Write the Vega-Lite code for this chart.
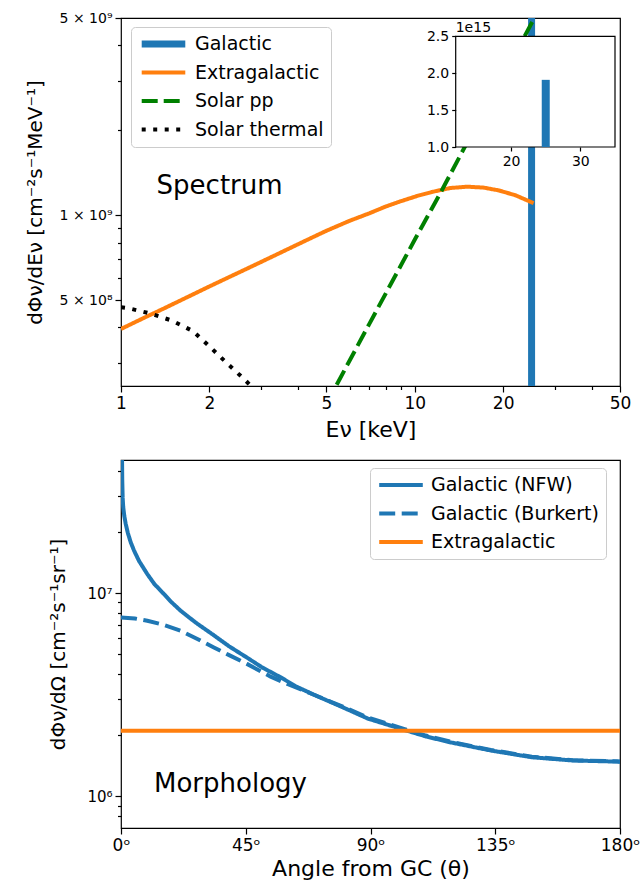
{
  "$schema": "https://vega.github.io/schema/vega-lite/v6.json",
  "padding": {"left": 24, "top": 10, "right": 10, "bottom": 2},
  "bounds": "flush",
  "spacing": 74,
  "resolve": {"scale": {"color": "independent", "strokeDash": "independent", "strokeWidth": "independent"}},
  "vconcat": [
    {
      "width": 499,
      "height": 368,
      "layer": [
        {
          "layer": [
            {
              "data": {"values": [
                {"series": "Galactic", "E": 25, "flux": 1e8},
                {"series": "Galactic", "E": 25, "flux": 1.91e15},
                {"series": "Extragalactic", "E": 1.0, "flux": 3.95e8},
                {"series": "Extragalactic", "E": 1.2, "flux": 4.33e8},
                {"series": "Extragalactic", "E": 1.4, "flux": 4.67e8},
                {"series": "Extragalactic", "E": 1.7, "flux": 5.15e8},
                {"series": "Extragalactic", "E": 2.0, "flux": 5.59e8},
                {"series": "Extragalactic", "E": 2.3, "flux": 5.99e8},
                {"series": "Extragalactic", "E": 2.7, "flux": 6.48e8},
                {"series": "Extragalactic", "E": 3.2, "flux": 7.05e8},
                {"series": "Extragalactic", "E": 3.7, "flux": 7.58e8},
                {"series": "Extragalactic", "E": 4.3, "flux": 8.17e8},
                {"series": "Extragalactic", "E": 5.0, "flux": 8.8e8},
                {"series": "Extragalactic", "E": 6.0, "flux": 9.55e8},
                {"series": "Extragalactic", "E": 7.0, "flux": 1.015e9},
                {"series": "Extragalactic", "E": 8.0, "flux": 1.075e9},
                {"series": "Extragalactic", "E": 9.0, "flux": 1.122e9},
                {"series": "Extragalactic", "E": 10.2, "flux": 1.17e9},
                {"series": "Extragalactic", "E": 11.5, "flux": 1.21e9},
                {"series": "Extragalactic", "E": 13.2, "flux": 1.248e9},
                {"series": "Extragalactic", "E": 15.1, "flux": 1.262e9},
                {"series": "Extragalactic", "E": 17.2, "flux": 1.252e9},
                {"series": "Extragalactic", "E": 19.4, "flux": 1.223e9},
                {"series": "Extragalactic", "E": 22.1, "flux": 1.175e9},
                {"series": "Extragalactic", "E": 25.4, "flux": 1.103e9},
                {"series": "Solar pp", "E": 5.0, "flux": 2.14e8},
                {"series": "Solar pp", "E": 7.0, "flux": 4.11e8},
                {"series": "Solar pp", "E": 10.0, "flux": 8.18e8},
                {"series": "Solar pp", "E": 12.45, "flux": 1.24e9},
                {"series": "Solar pp", "E": 15.0, "flux": 1.79e9},
                {"series": "Solar pp", "E": 20.0, "flux": 3.11e9},
                {"series": "Solar pp", "E": 27.0, "flux": 5.56e9},
                {"series": "Solar thermal", "E": 1.0, "flux": 4.72e8},
                {"series": "Solar thermal", "E": 1.05, "flux": 4.69e8},
                {"series": "Solar thermal", "E": 1.25, "flux": 4.49e8},
                {"series": "Solar thermal", "E": 1.49, "flux": 4.23e8},
                {"series": "Solar thermal", "E": 1.76, "flux": 3.88e8},
                {"series": "Solar thermal", "E": 2.01, "flux": 3.41e8},
                {"series": "Solar thermal", "E": 2.3, "flux": 2.98e8},
                {"series": "Solar thermal", "E": 2.64, "flux": 2.61e8},
                {"series": "Solar thermal", "E": 2.9, "flux": 2.36e8},
                {"series": "Solar thermal", "E": 3.1, "flux": 2.15e8}
              ]},
              "mark": {"type": "line", "clip": true, "strokeCap": "butt"},
              "encoding": {
                "x": {
                  "field": "E", "type": "quantitative",
                  "scale": {"type": "log", "domain": [1, 50], "nice": false},
                  "axis": {
                    "title": "Eν [keV]",
                    "values": [1, 2, 3, 4, 5, 6, 7, 8, 9, 10, 20, 30, 40, 50],
                    "labelExpr": "indexof([1, 2, 5, 10, 20, 50], datum.value) >= 0 ? datum.value : ''",
                    "tickSize": {"condition": {"test": "indexof([1, 2, 5, 10, 20, 50], datum.value) >= 0", "value": 6}, "value": 3.5},
                    "labelFontSize": 17, "labelPadding": 3,
                    "titleFontSize": 22, "titlePadding": 8
                  }
                },
                "y": {
                  "field": "flux", "type": "quantitative",
                  "scale": {"type": "log", "domain": [2.48e8, 5e9], "nice": false},
                  "axis": {
                    "title": "dΦν/dEν  [cm⁻²s⁻¹MeV⁻¹]",
                    "values": [3e8, 4e8, 5e8, 6e8, 7e8, 8e8, 9e8, 1e9, 2e9, 3e9, 4e9, 5e9],
                    "labelExpr": "datum.value == 5e9 ? '5 × 10⁹' : datum.value == 1e9 ? '1 × 10⁹' : datum.value == 5e8 ? '5 × 10⁸' : ''",
                    "tickSize": {"condition": {"test": "indexof([5e8, 1e9, 5e9], datum.value) >= 0", "value": 6}, "value": 3.5},
                    "labelFontSize": 14, "labelPadding": 3,
                    "titleFontSize": 20, "titlePadding": 14
                  }
                },
                "color": {
                  "field": "series", "type": "nominal",
                  "scale": {"domain": ["Galactic", "Extragalactic", "Solar pp", "Solar thermal"], "range": ["#1f77b4", "#ff7f0e", "#008000", "#000000"]},
                  "legend": {"orient": "none", "legendX": 10, "legendY": 9}
                },
                "strokeDash": {
                  "field": "series", "type": "nominal",
                  "scale": {"domain": ["Galactic", "Extragalactic", "Solar pp", "Solar thermal"], "range": [[1, 0], [1, 0], [16, 6], [4, 7.5]]},
                  "legend": {"orient": "none", "legendX": 10, "legendY": 9}
                },
                "strokeWidth": {
                  "field": "series", "type": "nominal",
                  "scale": {"type": "ordinal", "domain": ["Galactic", "Extragalactic", "Solar pp", "Solar thermal"], "range": [7, 4, 4, 4]},
                  "legend": {"orient": "none", "legendX": 10, "legendY": 9}
                }
              }
            },
            {
              "data": {"values": [{"E": 1.322, "flux": 1.187e9, "label": "Spectrum"}]},
              "mark": {"type": "text", "fontSize": 26, "align": "left", "baseline": "alphabetic", "color": "black"},
              "encoding": {
                "x": {"field": "E", "type": "quantitative"},
                "y": {"field": "flux", "type": "quantitative"},
                "text": {"field": "label"}
              }
            }
          ]
        },
        {
          "layer": [
            {
              "data": {"values": [{"x0": 12, "x1": 35, "y0": 1e15, "y1": 2.5e15}]},
              "mark": {"type": "rect", "fill": "white", "stroke": "black", "strokeWidth": 1.2},
              "encoding": {
                "x": {
                  "field": "x0", "type": "quantitative", "title": null,
                  "scale": {"domain": [12, 35], "range": [334.7, 494], "nice": false, "zero": false},
                  "axis": {"orient": "bottom", "offset": -239, "values": [20, 30], "tickSize": 4, "labelFontSize": 14, "labelPadding": 3, "zindex": 1}
                },
                "x2": {"field": "x1"},
                "y": {
                  "field": "y0", "type": "quantitative", "title": null,
                  "scale": {"domain": [1e15, 2.5e15], "range": [129, 18.3], "nice": false, "zero": false},
                  "axis": {"orient": "left", "offset": -334.7, "values": [1e15, 1.5e15, 2e15, 2.5e15], "labelExpr": "format(datum.value / 1e15, '.1f')", "tickSize": 4, "labelFontSize": 14, "labelPadding": 3, "zindex": 1}
                },
                "y2": {"field": "y1"}
              }
            },
            {
              "data": {"values": [{"E": 25, "flux": 1e15}, {"E": 25, "flux": 1.91e15}]},
              "mark": {"type": "line", "color": "#1f77b4", "strokeWidth": 8, "strokeCap": "butt"},
              "encoding": {
                "x": {"field": "E", "type": "quantitative", "title": null},
                "y": {"field": "flux", "type": "quantitative", "title": null}
              }
            },
            {
              "data": {"values": [{"E": 12, "flux": 2.5e15, "label": "1e15"}]},
              "mark": {"type": "text", "fontSize": 14, "align": "left", "baseline": "alphabetic", "dy": -4, "color": "black"},
              "encoding": {
                "x": {"field": "E", "type": "quantitative", "title": null},
                "y": {"field": "flux", "type": "quantitative", "title": null},
                "text": {"field": "label"}
              }
            }
          ]
        }
      ],
      "resolve": {"scale": {"x": "independent", "y": "independent"}, "axis": {"x": "independent", "y": "independent"}}
    },
    {
      "width": 499,
      "height": 368,
      "layer": [
        {
          "data": {"values": [
            {"profile": "Galactic (NFW)", "angle": 0.35, "flux": 5.0e7},
            {"profile": "Galactic (NFW)", "angle": 0.45, "flux": 3.6e7},
            {"profile": "Galactic (NFW)", "angle": 0.6, "flux": 2.95e7},
            {"profile": "Galactic (NFW)", "angle": 0.8, "flux": 2.65e7},
            {"profile": "Galactic (NFW)", "angle": 1.2, "flux": 2.39e7},
            {"profile": "Galactic (NFW)", "angle": 1.7, "flux": 2.19e7},
            {"profile": "Galactic (NFW)", "angle": 2.5, "flux": 1.97e7},
            {"profile": "Galactic (NFW)", "angle": 3.5, "flux": 1.78e7},
            {"profile": "Galactic (NFW)", "angle": 4.7, "flux": 1.62e7},
            {"profile": "Galactic (NFW)", "angle": 6.5, "flux": 1.44e7},
            {"profile": "Galactic (NFW)", "angle": 9.5, "flux": 1.24e7},
            {"profile": "Galactic (NFW)", "angle": 12, "flux": 1.11e7},
            {"profile": "Galactic (NFW)", "angle": 15.5, "flux": 9.89e6},
            {"profile": "Galactic (NFW)", "angle": 18, "flux": 9.08e6},
            {"profile": "Galactic (NFW)", "angle": 21.5, "flux": 8.19e6},
            {"profile": "Galactic (NFW)", "angle": 27, "flux": 7.15e6},
            {"profile": "Galactic (NFW)", "angle": 33.5, "flux": 6.2e6},
            {"profile": "Galactic (NFW)", "angle": 39, "flux": 5.47e6},
            {"profile": "Galactic (NFW)", "angle": 45.6, "flux": 4.8e6},
            {"profile": "Galactic (NFW)", "angle": 51, "flux": 4.3e6},
            {"profile": "Galactic (NFW)", "angle": 57.6, "flux": 3.85e6},
            {"profile": "Galactic (NFW)", "angle": 63, "flux": 3.48e6},
            {"profile": "Galactic (NFW)", "angle": 69.6, "flux": 3.16e6},
            {"profile": "Galactic (NFW)", "angle": 80, "flux": 2.74e6},
            {"profile": "Galactic (NFW)", "angle": 89.1, "flux": 2.41e6},
            {"profile": "Galactic (NFW)", "angle": 102.3, "flux": 2.12e6},
            {"profile": "Galactic (NFW)", "angle": 110, "flux": 1.97e6},
            {"profile": "Galactic (NFW)", "angle": 118.6, "flux": 1.845e6},
            {"profile": "Galactic (NFW)", "angle": 133.4, "flux": 1.68e6},
            {"profile": "Galactic (NFW)", "angle": 148.2, "flux": 1.556e6},
            {"profile": "Galactic (NFW)", "angle": 163, "flux": 1.5e6},
            {"profile": "Galactic (NFW)", "angle": 180, "flux": 1.48e6},
            {"profile": "Galactic (Burkert)", "angle": 0, "flux": 7.59e6},
            {"profile": "Galactic (Burkert)", "angle": 5, "flux": 7.5e6},
            {"profile": "Galactic (Burkert)", "angle": 9.5, "flux": 7.31e6},
            {"profile": "Galactic (Burkert)", "angle": 15, "flux": 7.0e6},
            {"profile": "Galactic (Burkert)", "angle": 21.5, "flux": 6.53e6},
            {"profile": "Galactic (Burkert)", "angle": 27, "flux": 6.0e6},
            {"profile": "Galactic (Burkert)", "angle": 33.5, "flux": 5.4e6},
            {"profile": "Galactic (Burkert)", "angle": 39, "flux": 4.95e6},
            {"profile": "Galactic (Burkert)", "angle": 45.6, "flux": 4.47e6},
            {"profile": "Galactic (Burkert)", "angle": 50, "flux": 4.15e6},
            {"profile": "Galactic (Burkert)", "angle": 54, "flux": 3.88e6},
            {"profile": "Galactic (Burkert)", "angle": 60, "flux": 3.57e6},
            {"profile": "Galactic (Burkert)", "angle": 69.6, "flux": 3.16e6},
            {"profile": "Galactic (Burkert)", "angle": 80, "flux": 2.76e6},
            {"profile": "Galactic (Burkert)", "angle": 89.1, "flux": 2.44e6},
            {"profile": "Galactic (Burkert)", "angle": 102.3, "flux": 2.14e6},
            {"profile": "Galactic (Burkert)", "angle": 110, "flux": 1.99e6},
            {"profile": "Galactic (Burkert)", "angle": 118.6, "flux": 1.86e6},
            {"profile": "Galactic (Burkert)", "angle": 133.4, "flux": 1.69e6},
            {"profile": "Galactic (Burkert)", "angle": 148.2, "flux": 1.565e6},
            {"profile": "Galactic (Burkert)", "angle": 163, "flux": 1.505e6},
            {"profile": "Galactic (Burkert)", "angle": 180, "flux": 1.485e6},
            {"profile": "Extragalactic", "angle": 0, "flux": 2.1e6},
            {"profile": "Extragalactic", "angle": 180, "flux": 2.1e6}
          ]},
          "mark": {"type": "line", "clip": true, "strokeWidth": 4, "strokeCap": "butt"},
          "encoding": {
            "x": {
              "field": "angle", "type": "quantitative",
              "scale": {"domain": [0, 180], "nice": false, "zero": false},
              "axis": {
                "title": "Angle from GC (θ)",
                "values": [0, 45, 90, 135, 180],
                "labelExpr": "datum.value + 'ᵒ'",
                "tickSize": 6, "labelFontSize": 17, "labelPadding": 3,
                "titleFontSize": 22, "titlePadding": 5
              }
            },
            "y": {
              "field": "flux", "type": "quantitative",
              "scale": {"type": "log", "domain": [6.98e5, 4.52e7], "nice": false},
              "axis": {
                "title": "dΦν/dΩ  [cm⁻²s⁻¹sr⁻¹]",
                "values": [8e5, 9e5, 1e6, 2e6, 3e6, 4e6, 5e6, 6e6, 7e6, 8e6, 9e6, 1e7, 2e7, 3e7, 4e7],
                "labelExpr": "datum.value == 1e6 ? '10⁶' : datum.value == 1e7 ? '10⁷' : ''",
                "tickSize": {"condition": {"test": "indexof([1e6, 1e7], datum.value) >= 0", "value": 6}, "value": 3.5},
                "labelFontSize": 15, "labelPadding": 3,
                "titleFontSize": 20, "titlePadding": 18
              }
            },
            "color": {
              "field": "profile", "type": "nominal",
              "scale": {"domain": ["Galactic (NFW)", "Galactic (Burkert)", "Extragalactic"], "range": ["#1f77b4", "#1f77b4", "#ff7f0e"]},
              "legend": {"orient": "none", "legendX": 249, "legendY": 8, "symbolStrokeWidth": 4}
            },
            "strokeDash": {
              "field": "profile", "type": "nominal",
              "scale": {"domain": ["Galactic (NFW)", "Galactic (Burkert)", "Extragalactic"], "range": [[1, 0], [16, 6.5], [1, 0]]},
              "legend": {"orient": "none", "legendX": 249, "legendY": 8, "symbolStrokeWidth": 4}
            }
          }
        },
        {
          "data": {"values": [{"angle": 11.9, "flux": 1.046e6, "label": "Morphology"}]},
          "mark": {"type": "text", "fontSize": 26, "align": "left", "baseline": "alphabetic", "color": "black"},
          "encoding": {
            "x": {"field": "angle", "type": "quantitative"},
            "y": {"field": "flux", "type": "quantitative"},
            "text": {"field": "label"}
          }
        }
      ]
    }
  ],
  "config": {
    "font": "DejaVu Sans",
    "view": {"stroke": "black", "strokeWidth": 1.2},
    "axis": {
      "grid": false, "domain": false,
      "tickColor": "black", "tickWidth": 1.2,
      "labelColor": "black", "titleColor": "black",
      "labelFont": "DejaVu Sans", "titleFont": "DejaVu Sans",
      "titleFontWeight": "normal",
      "labelFlush": false, "labelOverlap": false
    },
    "legend": {
      "title": null,
      "labelFont": "DejaVu Sans", "labelFontSize": 19, "labelColor": "black", "labelLimit": 400,
      "symbolType": "stroke", "symbolSize": 1900, "labelOffset": 6,
      "clipHeight": 20, "rowPadding": 8.5, "padding": 7,
      "fillColor": "#ffffffcc", "strokeColor": "#cccccc", "cornerRadius": 4
    },
    "text": {"font": "DejaVu Sans"}
  }
}
